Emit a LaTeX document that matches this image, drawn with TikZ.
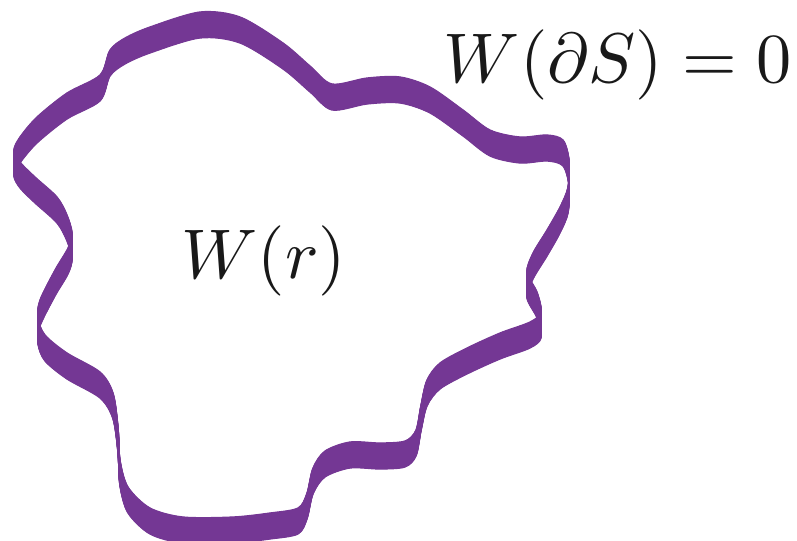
\documentclass[tikz,border=0pt]{standalone}
\usepackage{amsmath}
\usepackage{tikz}
\usetikzlibrary{positioning}
\definecolor{wallpurple}{HTML}{743794}

\begin{document}
\begin{tikzpicture}[
  x=0.03cm, y=-0.03cm,
  band/.style={draw=wallpurple, line width=1.1pt, line join=round},
  lbl/.style={inner sep=0pt, scale=6, text=black!90},
]
  \useasboundingbox (0,0) rectangle (797,541);

  % Top edge of the wall; the ribbon is this outline swept straight down.
  \def\wallpath{plot[smooth cycle, tension=0.5] coordinates {
    (110,50) (125,38) (150,27) (200,12) (240,17) (283,43) (310,66) (332,84)
    (367,78) (400,77) (430,87) (463,110) (490,130) (520,137) (547,135)
    (563,140) (569,160) (568,187) (560,207) (547,230) (533,253) (527,272)
    (537,292) (541,312) (530,322) (500,333) (467,348) (440,363) (427,380)
    (421,405) (416,430) (405,441) (380,443) (350,442) (325,451) (313,468)
    (307,493) (298,508) (270,513) (233,517) (183,517) (150,508) (128,487)
    (120,460) (118,427) (113,393) (100,372) (67,353) (45,335) (38,318)
    (40,300) (55,270) (68,248) (72,233) (67,215) (57,197) (35,177)
    (20,162) (14,150) (20,137) (37,117) (67,93) (100,75)}}

  \foreach \s in {0,0.5,...,26}
    { \draw[band, shift={(0,\s)}] \wallpath; }

  \node[lbl, anchor=base] (wr)  at (264,278) {$W(r)$};
  \node[lbl, anchor=base] (wds) at (618,83)  {$W(\partial S)=0$};
\end{tikzpicture}
\end{document}
